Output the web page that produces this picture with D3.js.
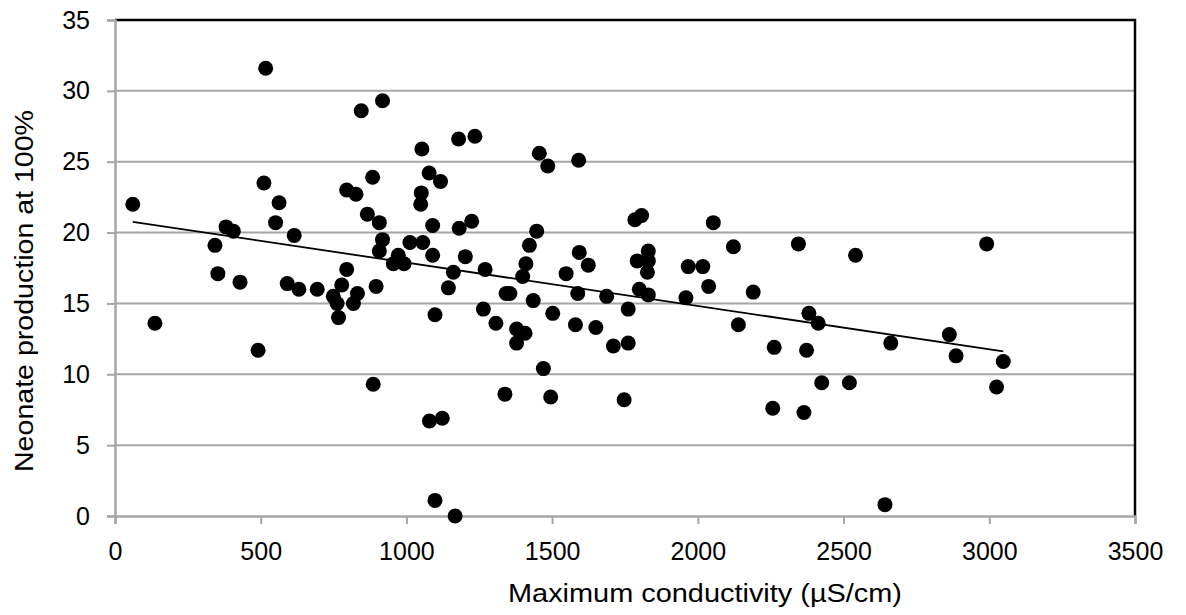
<!DOCTYPE html>
<script src="https://d3js.org/d3.v7.min.js"></script>
<body style="margin:0;background:#fff">
<script>
// Conductivity (x) and neonate production (y).
let conductivity = [
  61, 137,
  343, 353, 381, 406, 429, 491,
  517, 511, 563, 551, 615, 591, 631, 694,
  749, 762, 767, 778, 795, 795, 818, 827, 832, 845, 866, 884, 886, 896,
  907, 918, 907, 918, 955, 972, 992, 1012, 1053, 1051, 1049, 1056, 1078, 1090, 1090, 1079, 1098, 1098,
  1117, 1123, 1144, 1161, 1167, 1179, 1181, 1202, 1224, 1235, 1264, 1270,
  1307, 1338, 1342, 1355, 1378, 1378, 1399, 1407, 1410, 1422, 1435, 1447, 1456, 1470, 1485, 1495, 1502,
  1548, 1580, 1588, 1591, 1593, 1624, 1650, 1687,
  1710, 1747, 1761, 1761, 1784, 1792, 1799, 1807, 1827, 1830, 1830, 1830,
  1959, 1967, 2017, 2037, 2053, 2122, 2139, 2190,
  2257, 2262, 2345, 2364, 2373, 2381, 2413, 2425, 2520, 2541,
  2642, 2662, 2863, 2886, 2991, 3025, 3048
];
let neonates = [
  22.0, 13.6,
  19.1, 17.1, 20.4, 20.1, 16.5, 11.7,
  31.6, 23.5, 22.1, 20.7, 19.8, 16.4, 16.0, 16.0,
  15.5, 15.0, 14.0, 16.3, 17.4, 23.0, 15.0, 22.7, 15.7, 28.6, 21.3, 23.9, 9.3, 16.2,
  20.7, 19.5, 18.7, 29.3, 17.8, 18.4, 17.8, 19.3, 25.9, 22.8, 22.0, 19.3, 24.2, 20.5, 18.4, 6.7, 14.2, 1.1,
  23.6, 6.9, 16.1, 17.2, 0.0, 26.6, 20.3, 18.3, 20.8, 26.8, 14.6, 17.4,
  13.6, 8.6, 15.7, 15.7, 13.2, 12.2, 16.9, 12.9, 17.8, 19.1, 15.2, 20.1, 25.6, 10.4, 24.7, 8.4, 14.3,
  17.1, 13.5, 15.7, 25.1, 18.6, 17.7, 13.3, 15.5,
  12.0, 8.2, 14.6, 12.2, 20.9, 18.0, 16.0, 21.2, 17.2, 18.7, 18.0, 15.6,
  15.4, 17.6, 17.6, 16.2, 20.7, 19.0, 13.5, 15.8,
  7.6, 11.9, 19.2, 7.3, 11.7, 14.3, 13.6, 9.4, 9.4, 18.4,
  0.8, 12.2, 12.8, 11.3, 19.2, 9.1, 10.9
];
let xTicks = [0, 500, 1000, 1500, 2000, 2500, 3000, 3500];
let yTicks = [0, 5, 10, 15, 20, 25, 30, 35];

let points = conductivity.map((c, i) => ({x: c, y: neonates[i]}));

let width = 1186, height = 615;
let plotLeft = 115, plotRight = 1135, plotTop = 20, plotBottom = 516;
let font = "'Liberation Sans', Arial, sans-serif";

let svg = d3.select("body").append("svg")
    .attr("width", width)
    .attr("height", height)
    .style("font-family", font);

let x = d3.scaleLinear().domain([0, 3500]).range([plotLeft, plotRight]);
let y = d3.scaleLinear().domain([0, 35]).range([plotBottom, plotTop]);

// Horizontal gridlines.
svg.append("g").selectAll("line")
    .data(yTicks.slice(1, -1))
    .join("line")
    .attr("x1", plotLeft).attr("x2", plotRight)
    .attr("y1", d => y(d)).attr("y2", d => y(d))
    .attr("stroke", "#a6a6a6")
    .attr("stroke-width", 2);

// Black border on top and right.
svg.append("path")
    .attr("d", `M${plotLeft},${plotTop}H${plotRight}V${plotBottom}`)
    .attr("fill", "none")
    .attr("stroke", "#000")
    .attr("stroke-width", 2.5);

// Axes.
let xAxis = svg.append("g")
    .attr("transform", `translate(0,${plotBottom})`)
    .call(d3.axisBottom(x).tickValues(xTicks).tickFormat(d3.format("d")).tickSize(8).tickPadding(18));
let yAxis = svg.append("g")
    .attr("transform", `translate(${plotLeft},0)`)
    .call(d3.axisLeft(y).tickValues(yTicks).tickFormat(d3.format("d")).tickSize(8).tickPadding(17));

[xAxis, yAxis].forEach(a => {
    a.select(".domain").attr("stroke", "#a6a6a6").attr("stroke-width", 2.5);
    a.selectAll(".tick line").attr("stroke", "#a6a6a6").attr("stroke-width", 2);
    a.selectAll("text")
        .attr("fill", "#000")
        .style("font-size", "25px")
        .style("font-family", font);
});

// Least-squares trend line.
let mx = d3.mean(points, d => d.x), my = d3.mean(points, d => d.y);
let slope = d3.sum(points, d => (d.x - mx) * (d.y - my)) / d3.sum(points, d => (d.x - mx) ** 2);
let intercept = my - slope * mx;
let ext = d3.extent(points, d => d.x);

svg.append("line")
    .attr("x1", x(ext[0])).attr("y1", y(intercept + slope * ext[0]))
    .attr("x2", x(ext[1])).attr("y2", y(intercept + slope * ext[1]))
    .attr("stroke", "#000")
    .attr("stroke-width", 1.8);

// Points.
svg.append("g").selectAll("circle")
    .data(points)
    .join("circle")
    .attr("cx", d => x(d.x))
    .attr("cy", d => y(d.y))
    .attr("r", 7.5)
    .attr("fill", "#000");

// Axis titles.
svg.append("text")
    .attr("x", 705)
    .attr("y", 602)
    .attr("text-anchor", "middle")
    .attr("textLength", 394)
    .attr("lengthAdjust", "spacingAndGlyphs")
    .style("font-size", "25px")
    .text("Maximum conductivity (\u00b5S/cm)");

svg.append("text")
    .attr("transform", `translate(33,291) rotate(-90)`)
    .attr("text-anchor", "middle")
    .attr("textLength", 362)
    .attr("lengthAdjust", "spacingAndGlyphs")
    .style("font-size", "25px")
    .text("Neonate production at 100%");
</script>
</body>
</html>
